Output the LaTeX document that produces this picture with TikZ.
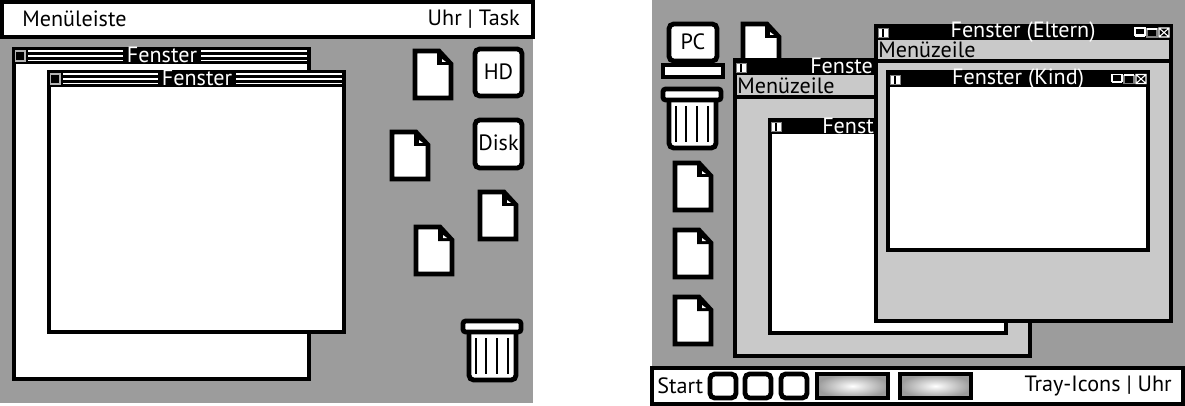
\documentclass[tikz,border=0pt]{standalone}
\usepackage{fontspec}
\setmainfont{PT Sans}
\definecolor{desk}{gray}{.61}
\definecolor{panel}{gray}{.79}
\tikzset{
  bar/.style={draw=black,line width=3.4pt,fill=white},
  frame/.style={draw=black,line width=3.3pt,fill=white},
  icon/.style={draw=black,line width=3.6pt,fill=white,rounded corners=3.5pt},
  caption/.style={inner sep=0pt,font=\fontsize{16.6}{16.6}\selectfont},
  titletext/.style={caption,text=white},
  stripe/.style={draw=white,line width=.9pt},
  rib/.style={draw=black,line width=1.7pt},
}
% page of a document, x y = top left corner
\newcommand{\docicon}[2]{
  \begin{scope}[shift={(#1,#2)}]
    \draw[frame,line width=3.5pt,line join=miter] (2,2) -- (26,2) -- (38,15) -- (38,49) -- (2,49) -- cycle;
    \fill[black] (24,2) -- (24,16) -- (38,16) -- cycle;
    \fill[white] (29,10) -- (29,13) -- (33,13) -- cycle;
  \end{scope}}
% waste bin, x y = top left corner of the lid
\newcommand{\bin}[2]{
  \begin{scope}[shift={(#1,#2)}]
    \draw[icon] (8,10) -- (8,61) -- (55,61) -- (55,10);
    \draw[icon,rounded corners=2pt] (2,2) rectangle (60,13);
    \foreach \ribx in {15,25,36,47}
      \draw[rib] (\ribx,19) -- (\ribx,55);
  \end{scope}}
% system buttons at the right end of a title bar
\newcommand{\winbuttons}[2]{
  \begin{scope}[shift={(#1,#2)}]
    \draw[white,line width=.8pt] (0,0) rectangle (10,7);
    \fill[white] (0,7) rectangle (10,9);
    \draw[gray,line width=.8pt,fill=black] (12,1) rectangle (22,9);
    \fill[white] (12,0) rectangle (22,2);
    \draw[white,line width=.8pt] (24,0) rectangle (34,9) (24,0) -- (34,9) (34,0) -- (24,9);
  \end{scope}}
% small split box at the left end of a title bar
\newcommand{\splitbox}[2]{
  \begin{scope}[shift={(#1,#2)}]
    \fill[white] (0,0) rectangle (10,9);
    \fill[black] (4.2,0) rectangle (5.8,9);
    \draw[gray,line width=.5pt] (0,0) rectangle (10,9);
  \end{scope}}
% striped title bar, #1 x of left edge, #2 y of top, #3 x of right edge, #4 x text centre, #5 name
\newcommand{\stripedtitle}[5]{
  \fill[black] (#1,#2) rectangle (#3,#2+17);
  \draw[white!70!black,line width=.8pt,fill=black] (#1+3.5,#2+4) rectangle (#1+13,#2+14);
  \foreach \stripey in {4,9,13.5}{
    \draw[stripe] (#1+16,#2+\stripey) -- (#4-39,#2+\stripey);
    \draw[stripe] (#4+39,#2+\stripey) -- (#3-4,#2+\stripey);
  }
  \node[titletext] (#5) at (#4,#2+8) {Fenster};}
\begin{document}
\begin{tikzpicture}[x=.75pt,y=-.75pt]
  \useasboundingbox (0,0) rectangle (1185,406);
  % left desktop
  \fill[desk] (0,0) rectangle (533,403);
  \draw[bar] (2,2) rectangle (533,37);
  \node[caption,anchor=west] (menubar) at (22,19) {Menüleiste};
  \node[caption,anchor=east] (clock) at (520,19) {Uhr | Task};
  \draw[frame] (14,49) rectangle (309,379);
  \stripedtitle{12}{47}{311}{162}{backtitle}
  \draw[frame] (49,72) rectangle (344,332);
  \stripedtitle{47}{70}{346}{197}{fronttitle}
  \docicon{413}{49}
  \docicon{390}{130}
  \docicon{478}{190}
  \docicon{414}{225}
  \draw[icon] (475,49) rectangle (522,96);
  \node[caption] (hd) at (498.5,72) {HD};
  \draw[icon] (475,120) rectangle (522,168);
  \node[caption] (disk) at (498.5,143) {Disk};
  \bin{461}{319}
  % right desktop
  \fill[desk] (652,0) rectangle (1185,368);
  \draw[icon] (669,24) rectangle (717,61);
  \node[caption] (pc) at (693,42) {PC};
  \draw[icon,rounded corners=0pt] (663,65) rectangle (723,77);
  \bin{661}{87}
  \docicon{741}{22}
  \docicon{673}{161}
  \docicon{673}{228}
  \docicon{673}{295}
  % parent window behind
  \draw[frame,fill=panel] (735,60) rectangle (1030,356);
  \fill[black] (733,58) rectangle (1032,75);
  \splitbox{736}{63}
  \node[titletext,anchor=west] (backparent) at (810,66) {Fenste};
  \draw[black,line width=3pt] (733,97) -- (1032,97);
  \node[caption,anchor=west] (backmenu) at (737,86) {Menüzeile};
  \draw[frame] (770,120) rectangle (1006,333);
  \fill[black] (768,118) rectangle (1008,134);
  \splitbox{771}{122}
  \node[titletext,anchor=west] (backchild) at (822,126) {Fenst};
  % parent window in front
  \draw[frame,fill=panel] (876,26) rectangle (1171,321);
  \fill[black] (874,24) rectangle (1173,40);
  \splitbox{878}{28}
  \node[titletext] (parenttitle) at (1023,32) {Fenster (Eltern)};
  \winbuttons{1135}{28}
  \draw[black,line width=3pt] (874,61) -- (1173,61);
  \node[caption,anchor=west] (parentmenu) at (878,50) {Menüzeile};
  \draw[frame] (888,72) rectangle (1148,250);
  \fill[black] (886,70) rectangle (1150,87);
  \splitbox{890}{75}
  \node[titletext] (childtitle) at (1018,79) {Fenster (Kind)};
  \winbuttons{1112}{74.5}
  % task bar
  \draw[bar] (652,368) rectangle (1183,404);
  \node[caption,anchor=west] (start) at (657,386) {Start};
  \foreach \btnx in {708,743,779}
    \draw[icon] (\btnx+2,374) rectangle (\btnx+28,398);
  \foreach \btnx in {815,898}{
    \draw[black,line width=3pt,inner color=white,outer color=desk] (\btnx+2,374) rectangle (\btnx+73,398);
  }
  \node[caption,anchor=east] (tray) at (1172,386) {Tray-Icons | Uhr};
\end{tikzpicture}
\end{document}
